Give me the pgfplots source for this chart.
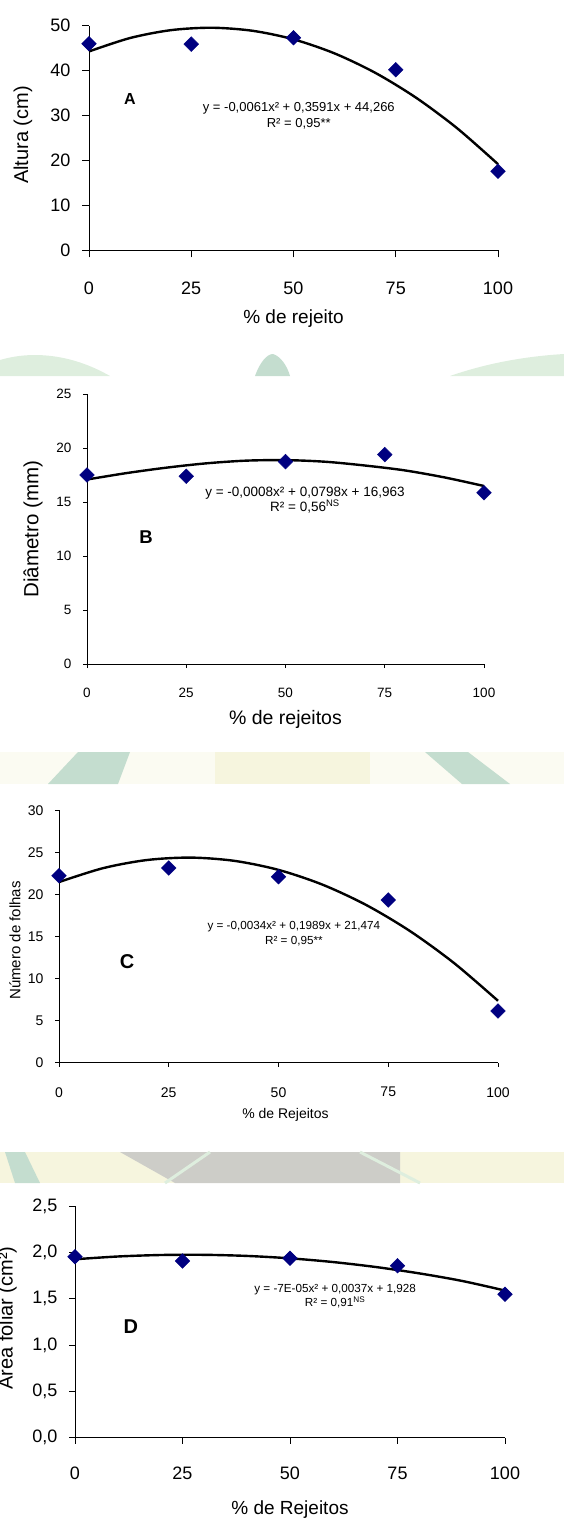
\documentclass[border=0pt]{standalone}
\usepackage{fontspec}
\setmainfont{Liberation Sans}
\usepackage{pgfplots}
\pgfplotsset{compat=1.18}

\definecolor{marinho}{RGB}{0,0,128}
\definecolor{verdeclaro}{RGB}{222,238,222}
\definecolor{verdeagua}{RGB}{196,221,207}
\definecolor{amareloclaro}{RGB}{246,245,222}
\definecolor{cinzafoto}{RGB}{205,205,200}

\pgfplotsset{
  painel/.style={
    scale only axis, anchor=south west,
    xmin=0, xmax=100, ymin=0,
    axis lines=left, axis line style={-, line width=0.9pt},
    xtick={0,25,50,75,100},
    tick align=outside, tick style={black, line width=0.9pt},
    clip=false,
    /pgf/number format/assume math mode=true,
    xlabel style={anchor=center},
    ylabel style={anchor=center},
  },
  pontos/.style={only marks, mark=square*, mark size=5.2pt,
    mark options={rotate=45, fill=marinho, draw=marinho}},
  ajuste/.style={no marks, smooth, line width=2.4pt, black},
}

\begin{document}
\begin{tikzpicture}
\useasboundingbox (0pt,0pt) rectangle (564pt,-1521pt);

% manchas de fundo entre os paineis
\begin{scope}[x=1pt, y=1pt]
\fill[verdeclaro] (0,-360) .. controls (30,-351) and (70,-353) .. (110,-376) -- (0,-376) -- cycle;
\fill[verdeagua] (255,-376) .. controls (260,-362) and (267,-354) .. (273,-354) .. controls (280,-356) and (287,-365) .. (290,-376) -- cycle;
\fill[verdeclaro] (450,-376) .. controls (490,-362) and (530,-356) .. (564,-354) -- (564,-376) -- cycle;

\fill[amareloclaro!40] (0,-752) rectangle (564,-784);
\fill[verdeagua] (48,-784) -- (78,-752) -- (130,-752) -- (118,-784) -- cycle;
\fill[amareloclaro] (215,-752) rectangle (370,-784);
\fill[verdeagua] (425,-752) -- (468,-752) -- (510,-784) -- (462,-784) -- cycle;

\fill[amareloclaro] (0,-1152) rectangle (564,-1183);
\fill[verdeagua] (5,-1152) -- (25,-1152) -- (40,-1183) -- (15,-1183) -- cycle;
\fill[cinzafoto] (120,-1152) -- (400,-1152) -- (400,-1183) -- (175,-1183) -- cycle;
\draw[verdeclaro, line width=3pt] (165,-1183) -- (210,-1152);
\draw[verdeclaro, line width=3pt] (360,-1152) -- (420,-1183);
\end{scope}

% A
\begin{axis}[painel, at={(89pt,-250.3pt)}, width=409pt, height=224.6pt,
  ymax=50, ytick={0,10,...,50}, major tick length=7pt,
  ticklabel style={font=\fontsize{18}{18}\selectfont},
  yticklabel style={xshift=-8pt}, xticklabel style={yshift=-21pt},
  xlabel={\% de rejeito}, ylabel={Altura (cm)},
  xlabel style={font=\fontsize{19}{19}\selectfont, at={([yshift=-68pt]axis description cs:0.5,0)}},
  ylabel style={font=\fontsize{20}{20}\selectfont, at={([xshift=-66pt,yshift=3pt]axis description cs:0,0.5)}},
]
\addplot[ajuste] coordinates {
  (0,44.27)(10,47.25)(20,49.01)(30,49.55)(40,48.87)(50,46.97)
  (60,43.85)(70,39.51)(80,33.95)(90,27.18)(100,19.18)};
\addplot[pontos] coordinates {(0,46.0)(25,45.9)(50,47.3)(75,40.2)(100,17.6)};
\node[font=\fontsize{16}{16}\selectfont\bfseries] at (axis cs:10,33.7) {A};
\node[font=\fontsize{13}{16}\selectfont, align=center] at (axis cs:51.3,29.9)
  {y = -0,0061x² + 0,3591x + 44,266\\R² = 0,95**};
\end{axis}

% B
\begin{axis}[painel, at={(87pt,-664pt)}, width=397pt, height=269.7pt,
  ymax=25, ytick={0,5,...,25}, major tick length=4pt,
  ticklabel style={font=\fontsize{13.5}{13.5}\selectfont},
  yticklabel style={xshift=-8pt}, xticklabel style={yshift=-17pt},
  xlabel={\% de rejeitos}, ylabel={Diâmetro (mm)},
  xlabel style={font=\fontsize{19.5}{19.5}\selectfont, at={([yshift=-55pt]axis description cs:0.5,0)}},
  ylabel style={font=\fontsize{20.5}{20.5}\selectfont, at={([xshift=-54pt]axis description cs:0,0.5)}},
]
\addplot[ajuste] coordinates {
  (0,17.1)(10,17.7)(20,18.2)(30,18.6)(40,18.85)(50,18.9)
  (60,18.75)(70,18.4)(80,17.95)(90,17.3)(100,16.5)};
\addplot[pontos] coordinates {(0,17.52)(25,17.40)(50,18.76)(75,19.41)(100,15.88)};
\node[font=\fontsize{18.5}{18.5}\selectfont\bfseries] at (axis cs:14.9,11.8) {B};
\node[font=\fontsize{13.5}{15}\selectfont, align=center] at (axis cs:54.9,15.15)
  {y = -0,0008x² + 0,0798x + 16,963\\R² = 0,56\textsuperscript{NS}};
\end{axis}

% C
\begin{axis}[painel, at={(59pt,-1062.7pt)}, width=439pt, height=252.4pt,
  ymax=30, ytick={0,5,...,30}, major tick length=4pt,
  ticklabel style={font=\fontsize{14}{14}\selectfont},
  yticklabel style={xshift=-8pt}, xticklabel style={yshift=-17pt},
  xlabel={\% de Rejeitos}, ylabel={Número de folhas},
  xlabel style={font=\fontsize{14}{14}\selectfont, at={([xshift=7pt,yshift=-52pt]axis description cs:0.5,0)}},
  ylabel style={font=\fontsize{15}{15}\selectfont, at={([xshift=-44pt,yshift=-4pt]axis description cs:0,0.5)}},
]
\addplot[ajuste] coordinates {
  (0,21.47)(10,23.12)(20,24.09)(30,24.38)(40,23.99)(50,22.92)
  (60,21.17)(70,18.74)(80,15.63)(90,11.84)(100,7.36)};
\addplot[pontos] coordinates {(0,22.23)(25,23.14)(50,22.11)(75,19.34)(100,6.14)};
\node[font=\fontsize{20}{20}\selectfont\bfseries] at (axis cs:15.5,11.97) {C};
\node[font=\fontsize{11.7}{15}\selectfont, align=center] at (axis cs:53.5,15.36)
  {y = -0,0034x² + 0,1989x + 21,474\\R² = 0,95**};
\end{axis}

% D
\begin{axis}[painel, at={(75pt,-1437.7pt)}, width=430pt, height=231.4pt,
  ymax=2.5, ytick={0,0.5,...,2.5}, major tick length=6pt,
  ticklabel style={font=\fontsize{18}{18}\selectfont},
  yticklabel style={xshift=-8pt, /pgf/number format/.cd, fixed, fixed zerofill, precision=1, use comma},
  xticklabel style={yshift=-20pt},
  xlabel={\% de Rejeitos}, ylabel={Área foliar (cm²)},
  xlabel style={font=\fontsize{19}{19}\selectfont, at={([yshift=-72pt]axis description cs:0.5,0)}},
  ylabel style={font=\fontsize{20}{20}\selectfont, at={([xshift=-69pt,yshift=4pt]axis description cs:0,0.5)}},
]
\addplot[ajuste] coordinates {
  (0,1.928)(10,1.958)(20,1.974)(30,1.976)(40,1.964)(50,1.938)
  (60,1.898)(70,1.844)(80,1.776)(90,1.694)(100,1.590)};
\addplot[pontos] coordinates {(0,1.956)(25,1.909)(50,1.938)(75,1.859)(100,1.549)};
\node[font=\fontsize{20}{20}\selectfont\bfseries] at (axis cs:13,1.199) {D};
\node[font=\fontsize{11.7}{14}\selectfont, align=center] at (axis cs:60.5,1.524)
  {y = -7E-05x² + 0,0037x + 1,928\\R² = 0,91\textsuperscript{NS}};
\end{axis}
\end{tikzpicture}
\end{document}
